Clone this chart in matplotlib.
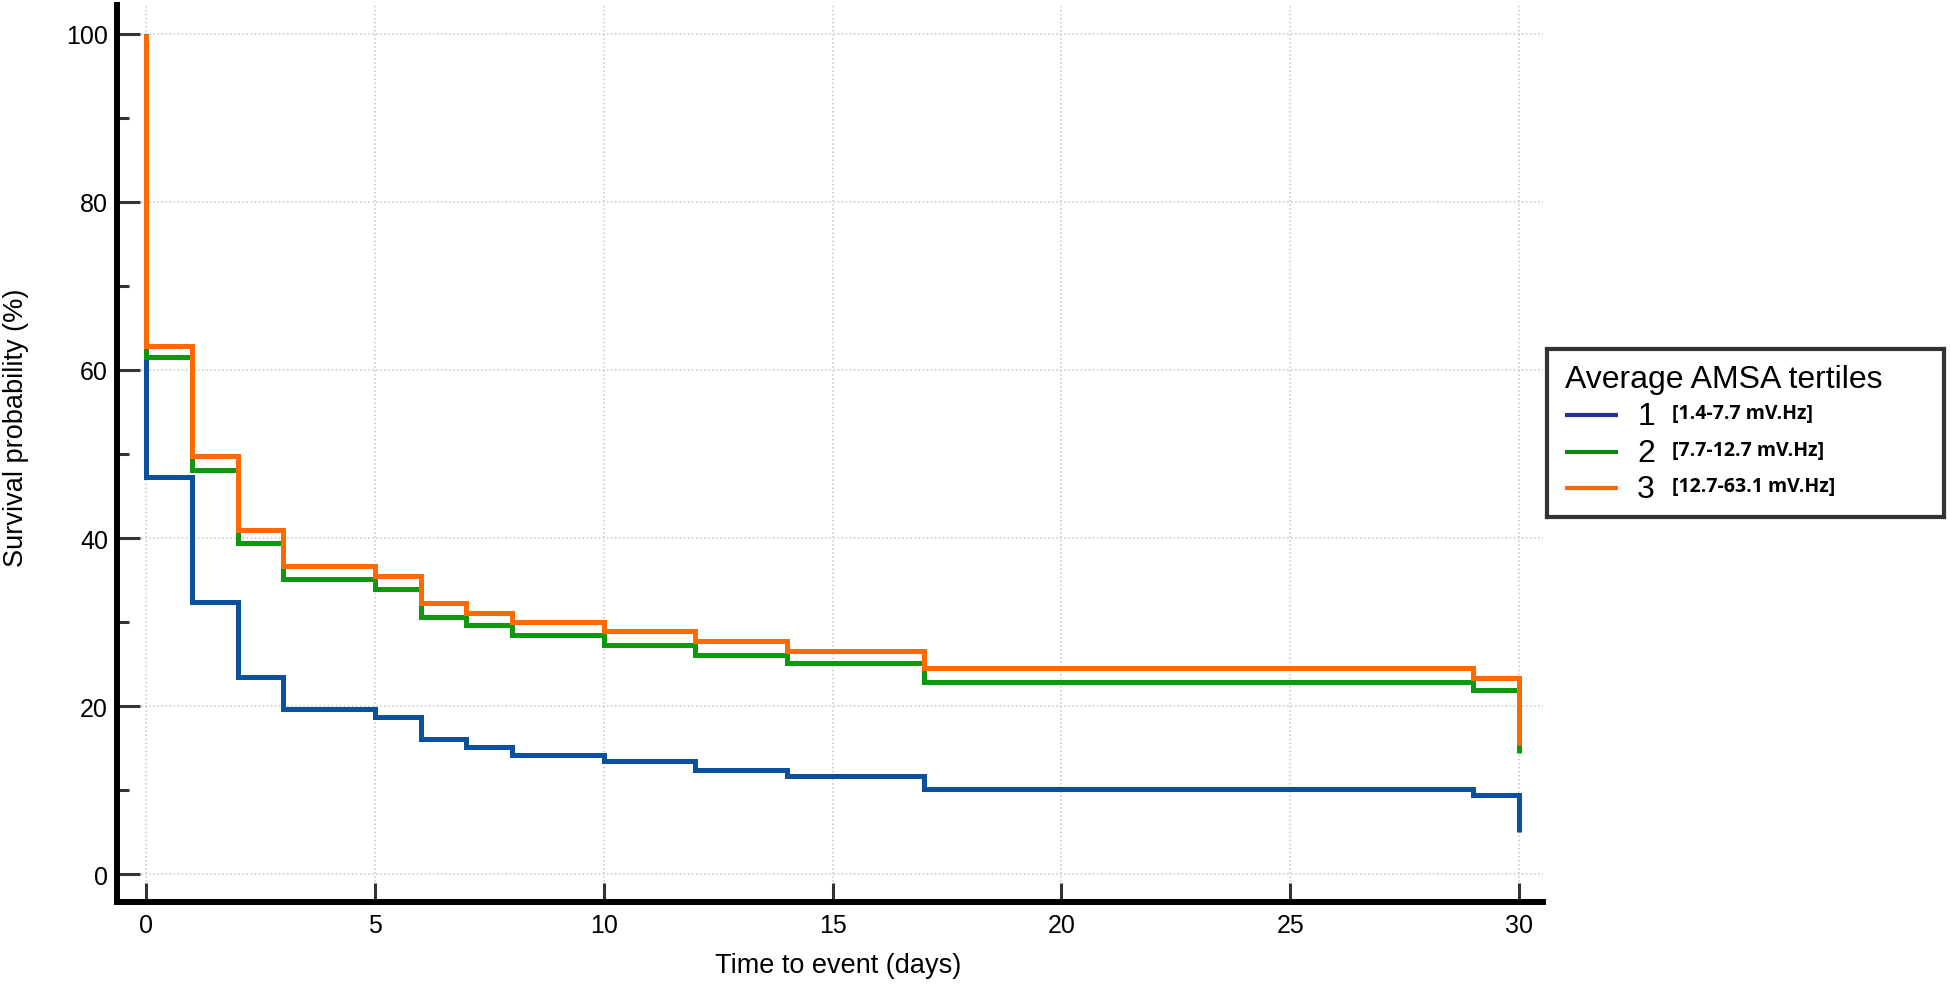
import matplotlib
matplotlib.use("Agg")
import matplotlib.pyplot as plt
from matplotlib.ticker import MultipleLocator

plt.rcParams.update({
    "font.family": ["Liberation Sans", "DejaVu Sans"],
    "figure.dpi": 100,
})

# Kaplan-Meier steps (days, survival %)
start_value = 100
event_days = [0, 1, 2, 3, 5, 6, 7, 8, 10, 12, 14, 17, 29, 30]
surv_t1 = [47.3, 32.4, 23.5, 19.7, 18.7, 16.1, 15.1, 14.2, 13.4, 12.4, 11.7, 10.1, 9.4, 5.0]
surv_t2 = [61.5, 48.1, 39.4, 35.1, 33.9, 30.6, 29.6, 28.4, 27.3, 26.1, 25.1, 22.9, 21.9, 14.4]
surv_t3 = [62.8, 49.8, 40.9, 36.7, 35.5, 32.3, 31.1, 30.0, 28.9, 27.7, 26.5, 24.5, 23.3, 15.3]

group_ids = ["1", "2", "3"]
group_ranges = ["[1.4-7.7 mV.Hz]", "[7.7-12.7 mV.Hz]", "[12.7-63.1 mV.Hz]"]
legend_title = "Average AMSA tertiles"

LINE_COLORS = ["#0B4F9F", "#0E980E", "#FF6A00"]
HANDLE_COLORS = ["#2B2BA0", "#0E870E", "#FF6A00"]
W, H = 1950, 987

fig = plt.figure(figsize=(W / 100, H / 100))
ax = fig.add_axes([117 / W, 1 - 903 / H, (1543 - 117) / W, (903 - 6) / H])

for vals, color in zip([surv_t1, surv_t2, surv_t3], LINE_COLORS):
    xs = [0] + event_days
    ys = [start_value] + vals
    ax.step(xs, ys, where="post", color=color, linewidth=3.6,
            solid_joinstyle="miter", solid_capstyle="butt", zorder=3)

ax.set_xlim(-0.634, 30.52)
ax.set_ylim(-3.33, 103.45)
ax.xaxis.set_major_locator(MultipleLocator(5))
ax.yaxis.set_major_locator(MultipleLocator(20))
ax.yaxis.set_minor_locator(MultipleLocator(10))

for side in ["top", "right"]:
    ax.spines[side].set_visible(False)
for side in ["left", "bottom"]:
    ax.spines[side].set_linewidth(4.3)
    ax.spines[side].set_color("black")

ax.grid(True, which="major", color="#C4C4C4", linestyle=":", linewidth=1.1, zorder=0)
ax.tick_params(axis="y", which="major", direction="in", length=16.5, width=2.2,
               color="#333333", labelsize=18, pad=6.5)
ax.tick_params(axis="y", which="minor", direction="in", length=8.6, width=2.2,
               color="#333333")
ax.tick_params(axis="x", which="major", direction="in", length=14, width=2.2,
               color="#333333", labelsize=18, pad=8)

fig.text(838 / W, 1 - 966 / H, "Time to event (days)", ha="center", va="center", fontsize=19.5)
fig.text(16 / W, 1 - 428 / H, "Survival probability (%)", ha="center", va="center",
         rotation=90, fontsize=19.5)

# legend box drawn in its own pixel-unit axes
lx0, lx1, ly0, ly1 = 1547, 1944, 350, 518
lax = fig.add_axes([lx0 / W, 1 - ly1 / H, (lx1 - lx0) / W, (ly1 - ly0) / H])
lax.set_xlim(0, lx1 - lx0)
lax.set_ylim(ly1 - ly0, 0)
lax.set_xticks([])
lax.set_yticks([])
for s in lax.spines.values():
    s.set_linewidth(3.0)
    s.set_color("#333333")

lax.text(18, 30, legend_title, ha="left", va="center", fontsize=23)
row_y = [66, 103, 139]
for y, gid, rng, hc in zip(row_y, group_ids, group_ranges, HANDLE_COLORS):
    lax.plot([18, 71], [y, y], color=hc, linewidth=3.0, solid_capstyle="butt")
    lax.text(99, y + 1, gid, ha="center", va="center", fontsize=23)
    lax.text(125, y - 2, rng, ha="left", va="center", fontsize=14,
             family=["Open Sans", "DejaVu Sans"], weight="bold")

fig.savefig("out.png", dpi=100, facecolor="white")
